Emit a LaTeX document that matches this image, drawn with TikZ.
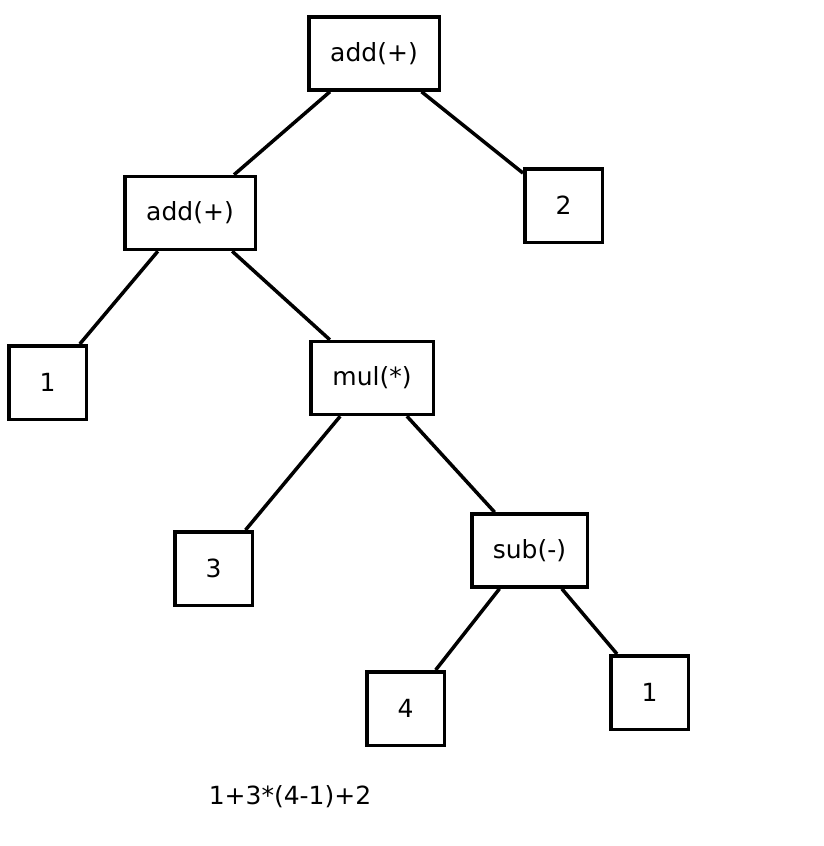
\documentclass[tikz,border=0pt]{standalone}
\usepackage{fontspec}
\setmainfont{DejaVu Sans}

\begin{document}
\begin{tikzpicture}[x=1pt,y=-1pt,line width=3.5pt,
  font=\fontsize{25}{30}\selectfont,
  op/.style={draw,minimum height=73pt,inner sep=0pt},
  num/.style={draw,minimum width=77.5pt,minimum height=73.5pt,inner sep=0pt}]
\useasboundingbox (0,0) rectangle (824,846);
\node[op,minimum width=130.5pt] (root) at (374, 53.5) {add(+)};
\node[op,minimum width=130.5pt] (add) at (190, 213) {add(+)};
\node[num] (two) at (563.5, 205.5) {2};
\node[num] (one) at (47.5, 382.5) {1};
\node[op,minimum width=122.5pt] (mul) at (372, 378) {mul(*)};
\node[num] (three) at (213.5, 568.5) {3};
\node[op,minimum width=115.5pt] (sub) at (529.5, 550.5) {sub(-)};
\node[num] (four) at (405.5, 708.5) {4};
\node[num] (onebis) at (649.5, 692.5) {1};
\node (expr) at (290, 797) {1+3*(4-1)+2};
\draw (root) -- (add);
\draw (root) -- (two);
\draw (add) -- (one);
\draw (add) -- (mul);
\draw (mul) -- (three);
\draw (mul) -- (sub);
\draw (sub) -- (four);
\draw (sub) -- (onebis);
\end{tikzpicture}
\end{document}
